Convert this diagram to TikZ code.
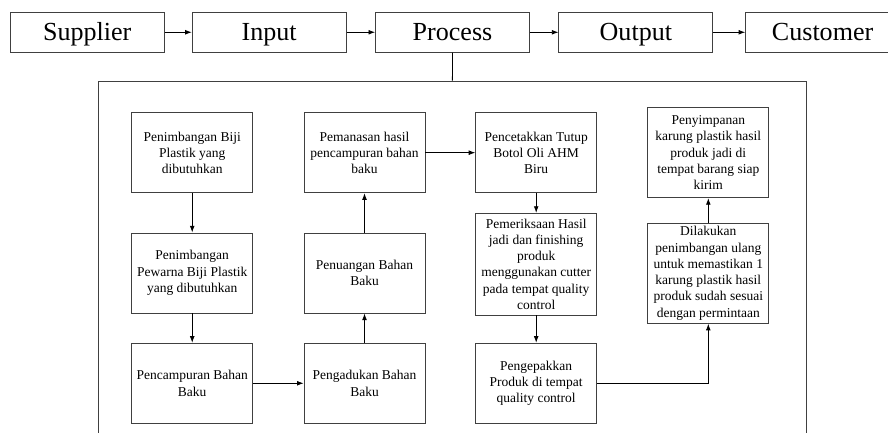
\documentclass[tikz,border=0pt]{standalone}
\usepackage{fontspec}
\setmainfont{Liberation Serif}
\usetikzlibrary{arrows.meta, positioning}

\begin{document}
\begin{tikzpicture}[
    tbox/.style={rectangle, draw=black!75, line width=0.8pt, minimum width=5.13cm,
                 minimum height=1.33cm, text height=21.3pt, text depth=5pt,
                 font=\fontsize{24.7}{28}\selectfont},
    pbox/.style={rectangle, draw=black!75, line width=0.8pt, minimum width=4.03cm,
                 minimum height=2.67cm, inner sep=1pt, align=center,
                 font=\fontsize{12.8}{15.4}\selectfont},
    arr/.style={-{Latex[length=0.22cm, width=0.16cm]}, line width=0.8pt},
  ]
  \useasboundingbox (0,0) rectangle (29.6,14.433);

  % SIPOC row
  \node[tbox] (sup)  at (2.905, 13.357)  {Supplier};
  \node[tbox] (inp)  at (8.972, 13.357)  {Input};
  \node[tbox] (proc) at (15.083, 13.357) {Process};
  \node[tbox] (outp) at (21.195, 13.357) {Output};
  \node[tbox] (cust) at (27.42, 13.357)  {Customer};

  \draw[arr] (sup) -- (inp);
  \draw[arr] (inp) -- (proc);
  \draw[arr] (proc) -- (outp);
  \draw[arr] (outp) -- (cust);

  % process frame
  \node[rectangle, draw=black!75, line width=0.8pt, minimum width=23.6cm,
        minimum height=12.33cm] (frame) at (15.08, 5.567) {};
  \draw[line width=0.8pt] (proc.south) -- (frame.north);

  % process steps
  \node[pbox] (s1) at (6.407, 9.343) {Penimbangan Biji\\Plastik yang\\dibutuhkan};
  \node[pbox] (s2) at (6.407, 5.333) {Penimbangan\\Pewarna Biji Plastik\\yang dibutuhkan};
  \node[pbox] (s3) at (6.407, 1.657) {Pencampuran Bahan\\Baku};
  \node[pbox] (s4) at (12.15, 1.657) {Pengadukan Bahan\\Baku};
  \node[pbox] (s5) at (12.15, 5.333) {Penuangan Bahan\\Baku};
  \node[pbox] (s6) at (12.15, 9.343) {Pemanasan hasil\\pencampuran bahan\\baku};
  \node[pbox] (s7) at (17.873, 9.343) {Pencetakkan Tutup\\Botol Oli AHM\\Biru};
  \node[pbox, minimum height=3.39cm] (s8) at (17.873, 5.628)
    {Pemeriksaan Hasil\\jadi dan finishing\\produk\\menggunakan cutter\\pada tempat quality\\control};
  \node[pbox] (s9) at (17.873, 1.657) {Pengepakkan\\Produk di tempat\\quality control};
  \node[pbox, minimum height=3.333cm] (s10) at (23.61, 5.323)
    {Dilakukan\\penimbangan ulang\\untuk memastikan 1\\karung plastik hasil\\produk sudah sesuai\\dengan permintaan};
  \node[pbox, minimum height=3.0cm] (s11) at (23.61, 9.343)
    {Penyimpanan\\karung plastik hasil\\produk jadi di\\tempat barang siap\\kirim};

  \draw[arr] (s1) -- (s2);
  \draw[arr] (s2) -- (s3);
  \draw[arr] (s3) -- (s4);
  \draw[arr] (s4) -- (s5);
  \draw[arr] (s5) -- (s6);
  \draw[arr] (s6) -- (s7);
  \draw[arr] (s7) -- (s8);
  \draw[arr] (s8) -- (s9);
  \draw[arr] (s9.east) -| (s10.south);
  \draw[arr] (s10) -- (s11);
\end{tikzpicture}
\end{document}
